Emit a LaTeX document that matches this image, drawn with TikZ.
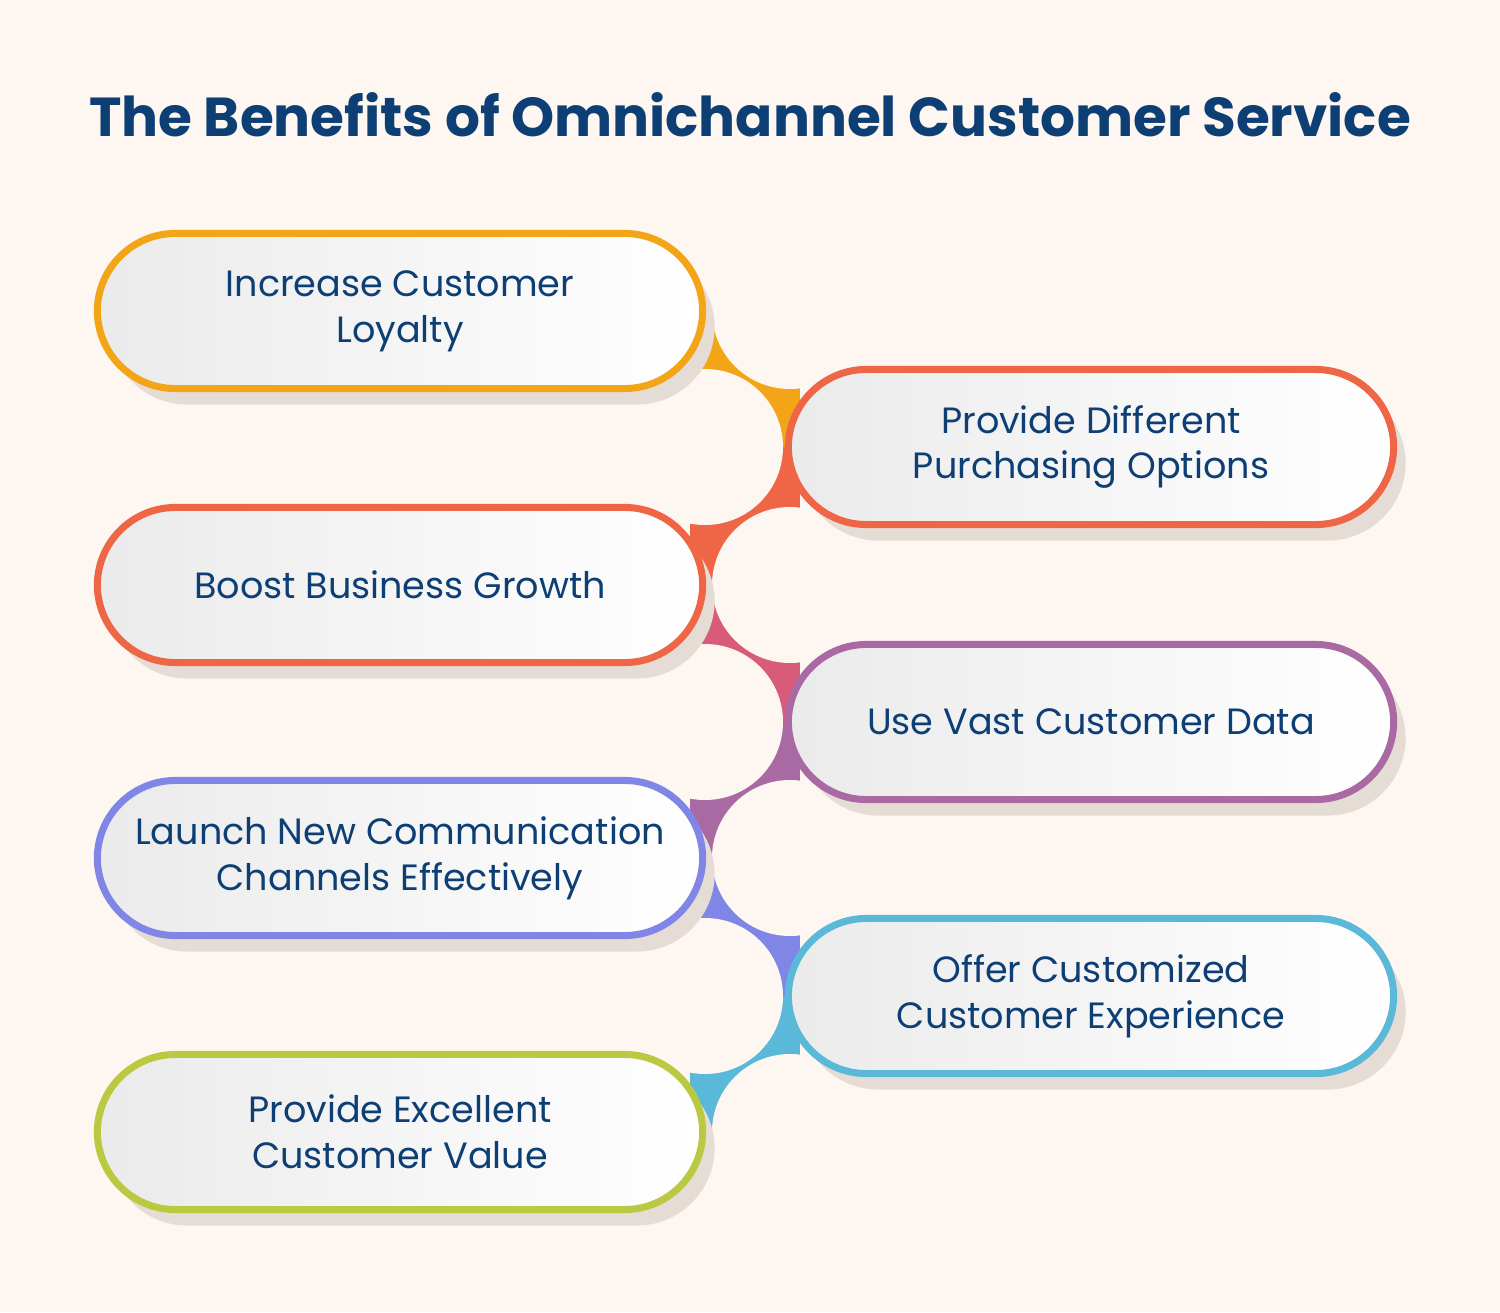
\documentclass[tikz,border=0pt]{standalone}
\usepackage{fontspec}
\setmainfont{Poppins}
\usetikzlibrary{shadows}
\definecolor{bg}{HTML}{FDF6F1}
\definecolor{ink}{HTML}{0D3F75}
\definecolor{cOrange}{HTML}{F2A516}
\definecolor{cRed}{HTML}{EE6646}
\definecolor{cPink}{HTML}{D95B7A}
\definecolor{cPurple}{HTML}{A96AA3}
\definecolor{cBlue}{HTML}{7F86E6}
\definecolor{cTeal}{HTML}{5AB8D8}
\definecolor{cLime}{HTML}{BAC842}
\definecolor{shade}{HTML}{E6DCD6}
\tikzset{
  pill/.style={rectangle, rounded corners=0.78cm, minimum width=6.05cm, minimum height=1.55cm,
    draw=#1, line width=2pt, left color=black!8, right color=white, text=ink,
    align=center, font=\fontsize{10.4pt}{13pt}\selectfont,
    drop shadow={shadow xshift=0.12cm, shadow yshift=-0.16cm, fill=shade, opacity=1}},
  notch/.style={fill=bg, draw=none}
}
\begin{document}
\begin{tikzpicture}[x=0.01cm, y=-0.01cm]
  \fill[bg] (0,0) rectangle (1500,1312);
  \useasboundingbox (0,0) rectangle (1500,1312);

  % title
  \node[text=ink, font=\fontsize{15.6pt}{19pt}\selectfont\bfseries] (title) at (750,115)
    {The Benefits of Omnichannel Customer Service};

  % connecting band
  \fill[cOrange] (690,311) rectangle (800,447);
  \fill[cRed]    (690,447) rectangle (800,585);
  \fill[cPink]   (690,585) rectangle (800,722);
  \fill[cPurple] (690,722) rectangle (800,858);
  \fill[cBlue]   (690,858) rectangle (800,996);
  \fill[cTeal]   (690,996) rectangle (800,1132);
  \foreach \y in {311,585,858,1132}
    \fill[notch] (790,\y) circle (78);
  \foreach \y in {447,722,996}
    \fill[notch] (705,\y) circle (78);

  % left column
  \node[pill=cOrange] (loyalty) at (400,311) {Increase Customer\\Loyalty};
  \node[pill=cRed]    (growth)  at (400,585) {Boost Business Growth};
  \node[pill=cBlue]   (launch)  at (400,858) {Launch New Communication\\Channels Effectively};
  \node[pill=cLime]   (value)   at (400,1132) {Provide Excellent\\Customer Value};

  % right column
  \node[pill=cRed]    (purchase) at (1091,447) {Provide Different\\Purchasing Options};
  \node[pill=cPurple] (data)     at (1091,722) {Use Vast Customer Data};
  \node[pill=cTeal]   (custom)   at (1091,996) {Offer Customized\\Customer Experience};
\end{tikzpicture}
\end{document}
